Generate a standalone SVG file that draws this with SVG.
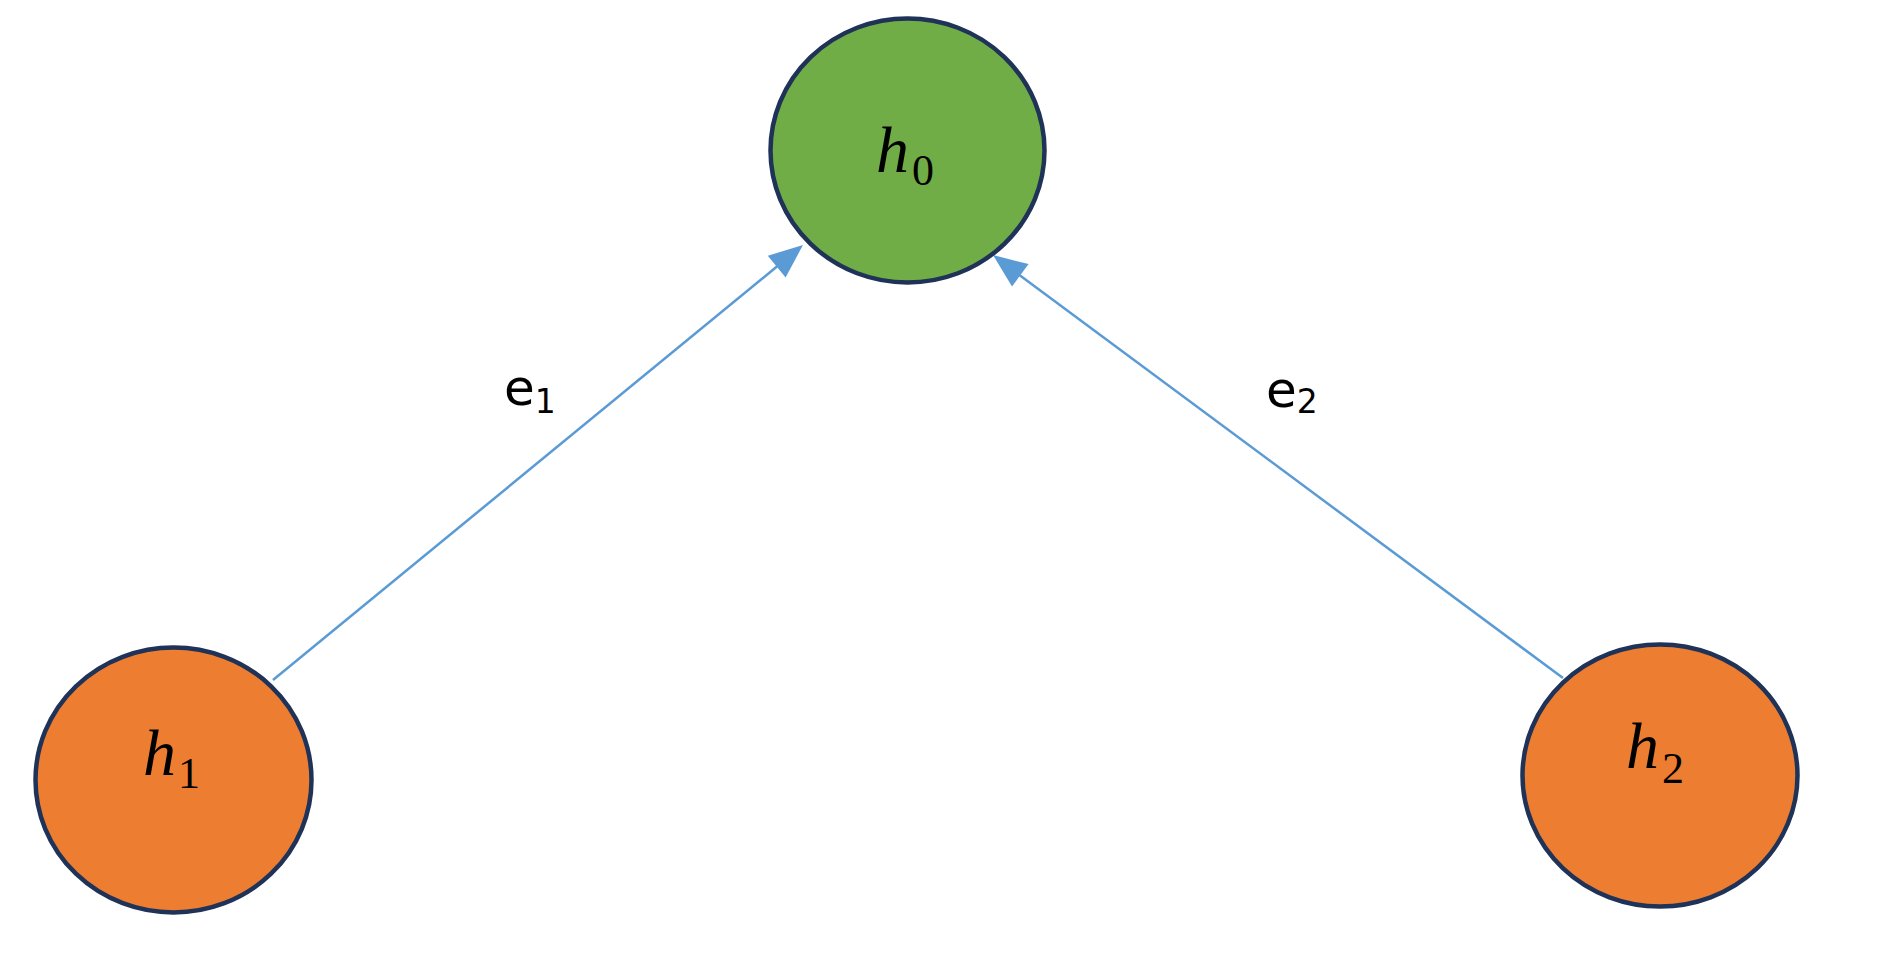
<svg xmlns="http://www.w3.org/2000/svg" width="1878" height="955" viewBox="0 0 1878 955">
<style>
.node{stroke:#1F3257;stroke-width:4.5}
.green{fill:#70AD47}
.orange{fill:#ED7D31}
.lbl{font-family:"Liberation Serif",serif;fill:#000}
.lbl .v{font-style:italic;font-size:66px}
.lbl .s{font-size:44px}
.edge{stroke:#5B9BD5;stroke-width:2.5;fill:none}
.head{fill:#5B9BD5}
.elbl{font-family:"DejaVu Sans",sans-serif;font-size:50px;fill:#000}
.elbl .s{font-size:33px}
</style>
<rect width="1878" height="955" fill="#fff"/>
<g id="connectors">
<line class="edge" x1="273" y1="680" x2="780" y2="264"/>
<path class="head" d="M803,245 L767.8,255.8 L785.6,277.4 Z"/>
<line class="edge" x1="1563" y1="678" x2="1018" y2="274"/>
<path class="head" d="M993,255 L1028.6,264.1 L1012,286.5 Z"/>
<text class="elbl" x="504" y="405">e<tspan class="s" y="413">1</tspan></text>
<text class="elbl" x="1266" y="407">e<tspan class="s" y="413">2</tspan></text>
</g>
<g id="h0">
<ellipse class="node green" cx="907.5" cy="150.5" rx="137" ry="132"/>
<text class="lbl" x="876" y="172"><tspan class="v">h</tspan><tspan class="s" x="912" y="185">0</tspan></text>
</g>
<g id="h1">
<ellipse class="node orange" cx="173.5" cy="780" rx="138" ry="132.5"/>
<text class="lbl" x="143" y="775"><tspan class="v">h</tspan><tspan class="s" x="178" y="788">1</tspan></text>
</g>
<g id="h2">
<ellipse class="node orange" cx="1660" cy="775.5" rx="137.5" ry="131"/>
<text class="lbl" x="1626" y="768"><tspan class="v">h</tspan><tspan class="s" x="1662" y="783">2</tspan></text>
</g>
</svg>
